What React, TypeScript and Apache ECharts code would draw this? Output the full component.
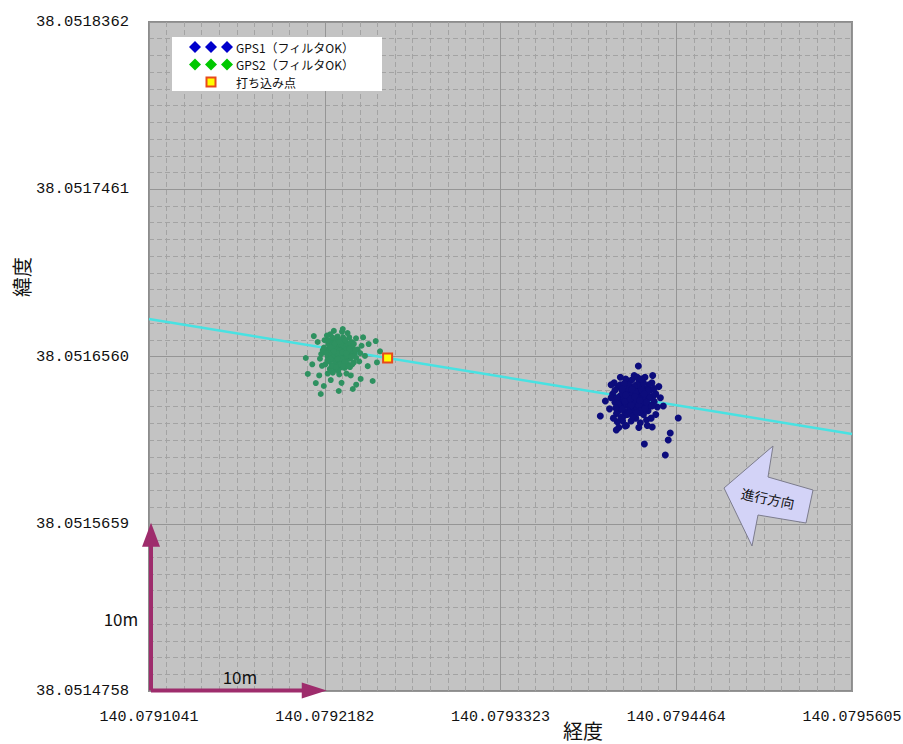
import React, { useEffect, useRef } from "react";
import * as echarts from "echarts";

// Lower-left corner of the plot, in degrees.
const LON0 = 140.0791041;
const LAT0 = 38.0514758;
// One grid step on each axis (about 10 m at this latitude), in units of 1e-7 degree.
const LON_STEP = 1141;
const LAT_STEP = 901;

const X_TICKS = ["140.0791041", "140.0792182", "140.0793323", "140.0794464", "140.0795605"];
const Y_TICKS = ["38.0514758", "38.0515659", "38.0516560", "38.0517461", "38.0518362"];

// All positions below are [longitude, latitude] offsets from (LON0, LAT0), in 1e-7 degree.

// GPS2 fixes (filter OK)
const GPS2_POINTS: number[][] = [
  [1232, 1821], [1201, 1840], [1265, 1795], [1188, 1802], [1247, 1858], [1290, 1830], [1170, 1775], [1219, 1768],
  [1275, 1880], [1305, 1790], [1150, 1835], [1240, 1742], [1196, 1890], [1322, 1852], [1258, 1812], [1213, 1805],
  [1181, 1861], [1287, 1763], [1229, 1875], [1160, 1800], [1335, 1815], [1208, 1731], [1270, 1740], [1145, 1760],
  [1300, 1905], [1224, 1910], [1176, 1922], [1253, 1935], [1330, 1770], [1118, 1815], [1355, 1840], [1193, 1715],
  [1282, 1710], [1242, 1780], [1211, 1830], [1262, 1848], [1236, 1795], [1184, 1825], [1299, 1815], [1165, 1870],
  [1316, 1880], [1227, 1850], [1255, 1772], [1198, 1785], [1279, 1857], [1140, 1890], [1345, 1795], [1123, 1752],
  [1371, 1820], [1218, 1890], [1305, 1745], [1260, 1905], [1174, 1735], [1289, 1928], [1155, 1915], [1344, 1900],
  [1235, 1705], [1110, 1790], [1380, 1860], [1203, 1760], [1268, 1826], [1190, 1870], [1246, 1890], [1312, 1830],
  [1168, 1845], [1233, 1758], [1294, 1790], [1214, 1855], [1252, 1842], [1186, 1753], [1320, 1760], [1136, 1850],
  [1275, 1800], [1204, 1815], [1243, 1815], [1222, 1838], [1260, 1860], [1196, 1808], [1281, 1840], [1250, 1790],
  [1178, 1790], [1310, 1863], [1158, 1780], [1236, 1835], [1211, 1880], [1292, 1750], [1229, 1725], [1340, 1835],
  [1128, 1835], [1365, 1775], [1200, 1940], [1310, 1700], [1160, 1710],
  [1170, 1820], [1195, 1750], [1225, 1790], [1255, 1825], [1285, 1805], [1315, 1800], [1165, 1890], [1205, 1870],
  [1240, 1760], [1270, 1770], [1300, 1840], [1180, 1850], [1215, 1745], [1245, 1870], [1275, 1890], [1305, 1875],
  [1150, 1820], [1330, 1870], [1190, 1905], [1260, 1750], [1220, 1820], [1280, 1820], [1200, 1830], [1235, 1880],
  [1070, 1912], [1258, 1950], [1018, 1794], [1031, 1708], [1115, 1600], [1232, 1616], [1323, 1627], [1374, 1681],
  [1452, 1670], [1472, 1885], [1426, 1869], [1135, 1643], [1083, 1659], [1095, 1880], [1402, 1805], [1420, 1750],
  [1060, 1760], [1250, 1660], [1180, 1675], [1390, 1905], [1105, 1700], [1345, 1650], [1480, 1770], [1500, 1830],
];

// GPS1 fixes (filter OK)
const GPS1_POINTS: number[][] = [
  [3138, 1578], [3100, 1600], [3170, 1555], [3090, 1540], [3205, 1610], [3150, 1630], [3060, 1590], [3120, 1520],
  [3185, 1500], [3230, 1570], [3045, 1640], [3110, 1660], [3200, 1665], [3255, 1620], [3025, 1555], [3160, 1470],
  [3080, 1480], [3240, 1510], [3130, 1640], [3190, 1590], [3070, 1620], [3145, 1530], [3215, 1545], [3105, 1570],
  [3175, 1620], [3050, 1510], [3265, 1660], [3020, 1660], [3130, 1455], [3230, 1460], [3280, 1560], [3010, 1600],
  [3095, 1680], [3180, 1675], [3160, 1595], [3118, 1588], [3152, 1560], [3085, 1615], [3196, 1532], [3226, 1600],
  [3066, 1560], [3140, 1605], [3112, 1545], [3172, 1580], [3134, 1675], [3245, 1650], [3035, 1495], [3290, 1600],
  [3000, 1580], [3155, 1510], [3210, 1490], [3075, 1455], [3300, 1530], [3260, 1470], [3190, 1445], [3100, 1430],
  [3040, 1450], [2990, 1520], [3220, 1690], [3060, 1690], [3150, 1700], [3270, 1700], [3310, 1640], [3125, 1610],
  [3185, 1635], [3090, 1505], [3240, 1590], [3055, 1535], [3165, 1650], [3205, 1575], [3115, 1625], [3145, 1555],
  [3080, 1575], [3195, 1555], [3135, 1500], [3250, 1540], [3025, 1620], [3170, 1525], [3220, 1630], [3105, 1490],
  [3275, 1590], [3015, 1470], [3235, 1430], [3180, 1420], [3290, 1490], [3050, 1420], [3320, 1580], [3000, 1650],
  [3060, 1650], [3090, 1560], [3120, 1500], [3150, 1640], [3180, 1540], [3210, 1660], [3240, 1620], [3070, 1520],
  [3100, 1620], [3130, 1540], [3160, 1610], [3190, 1510], [3220, 1520], [3250, 1580], [3040, 1580], [3075, 1600],
  [3110, 1650], [3140, 1480], [3170, 1690], [3200, 1620], [3230, 1555], [3085, 1655], [3125, 1575], [3155, 1585],
  [3185, 1565], [3215, 1600], [3045, 1545], [3065, 1475], [3095, 1595], [3135, 1625], [3165, 1500], [3195, 1680],
  [3265, 1535], [3280, 1630], [3030, 1525],
  [3177, 1751], [2930, 1481], [3436, 1471], [3384, 1390], [3371, 1352], [3216, 1331], [3352, 1271], [3034, 1406],
  [3339, 1535], [3267, 1422], [3092, 1428], [2963, 1562], [3073, 1627],
];

// Travel line, drawn across the full width of the plot
const TRACK_LINE: number[][] = [
  [0, 2004],
  [4564, 1385],
];

// Driven-in point
const DRIVE_POINT: number[][] = [[1549, 1794]];

const LEGEND_ITEMS = ["GPS1（フィルタOK）", "GPS2（フィルタOK）", "打ち込み点"];

const MONO = "'Liberation Mono', 'DejaVu Sans Mono', monospace";
const JP = "'Noto Sans CJK JP', 'Noto Sans', sans-serif";
const SCALE_COLOR = "#9E2C6C";

// Legend row centres
const ROW_Y = [47, 64.5, 82];

function diamond(cx: number, cy: number, r: number, color: string) {
  return {
    type: "polygon",
    shape: { points: [[cx, cy - r], [cx + r, cy], [cx, cy + r], [cx - r, cy]] },
    style: { fill: color },
    silent: true,
  };
}

export default function App() {
  const ref = useRef<HTMLDivElement>(null);

  useEffect(() => {
    document.body.style.margin = "0";
    if (!ref.current) return;
    const chart = echarts.init(ref.current, null, { renderer: "svg" });

    chart.setOption({
      animation: false,
      backgroundColor: "#ffffff",
      grid: {
        left: 149,
        top: 22,
        width: 703,
        height: 669,
        show: true,
        backgroundColor: "#c3c3c3",
        borderColor: "#8c8c8c",
        borderWidth: 2,
        containLabel: false,
        outerBoundsMode: "none",
      },
      xAxis: {
        type: "value",
        min: 0,
        max: LON_STEP * 4,
        interval: LON_STEP,
        axisLine: { show: false },
        axisTick: { show: false },
        axisLabel: {
          margin: 19,
          fontFamily: MONO,
          fontSize: 15,
          color: "#111",
          showMinLabel: true,
          showMaxLabel: true,
          formatter: (v: number) => X_TICKS[Math.round(v / LON_STEP)] ?? "",
        },
        splitLine: { show: true, lineStyle: { color: "#959595", width: 1 } },
        minorTick: { show: false, splitNumber: 10 },
        minorSplitLine: { show: true, lineStyle: { color: "#a3a3a3", width: 1, type: [5, 3] } },
      },
      yAxis: {
        type: "value",
        min: 0,
        max: LAT_STEP * 4,
        interval: LAT_STEP,
        axisLine: { show: false },
        axisTick: { show: false },
        axisLabel: {
          margin: 20,
          fontFamily: MONO,
          fontSize: 15.5,
          color: "#111",
          showMinLabel: true,
          showMaxLabel: true,
          formatter: (v: number) => Y_TICKS[Math.round(v / LAT_STEP)] ?? "",
        },
        splitLine: { show: true, lineStyle: { color: "#959595", width: 1 } },
        minorTick: { show: false, splitNumber: 10 },
        minorSplitLine: { show: true, lineStyle: { color: "#a3a3a3", width: 1, type: [5, 3] } },
      },
      series: [
        {
          name: "進行ライン",
          type: "line",
          data: TRACK_LINE,
          symbol: "none",
          lineStyle: { color: "#48e2e2", width: 2.5 },
          silent: true,
          z: 1,
        },
        {
          name: "GPS2（フィルタOK）",
          type: "scatter",
          data: GPS2_POINTS,
          symbol: "circle",
          symbolSize: 6,
          itemStyle: { color: "#2e9160", opacity: 1 },
          silent: true,
          z: 2,
        },
        {
          name: "GPS1（フィルタOK）",
          type: "scatter",
          data: GPS1_POINTS,
          symbol: "circle",
          symbolSize: 7,
          itemStyle: { color: "#0c0c7c", opacity: 1 },
          silent: true,
          z: 3,
        },
        {
          name: "打ち込み点",
          type: "scatter",
          data: DRIVE_POINT,
          symbol: "rect",
          symbolSize: 9,
          itemStyle: { color: "#ffff00", borderColor: "#e8491a", borderWidth: 2, opacity: 1 },
          silent: true,
          z: 4,
        },
      ],
    });

    // Scale arrows: one grid step (10 m) along each axis, placed through the axes.
    const o = chart.convertToPixel({ gridIndex: 0 }, [0, 0]) as number[];
    const ex = chart.convertToPixel({ gridIndex: 0 }, [LON_STEP, 0]) as number[];
    const ey = chart.convertToPixel({ gridIndex: 0 }, [0, LAT_STEP]) as number[];
    const ax = o[0] + 2;
    const ay = o[1] - 0.5;

    const graphic: any[] = [
      // legend box
      {
        type: "rect",
        shape: { x: 172, y: 37, width: 210, height: 54 },
        style: { fill: "#ffffff" },
        silent: true,
        z: 10,
      },
      ...[195, 211, 227].map((x) => ({ ...diamond(x, ROW_Y[0], 6, "#0000cc"), z: 11 })),
      ...[195, 211, 227].map((x) => ({ ...diamond(x, ROW_Y[1], 6, "#00c800"), z: 11 })),
      {
        type: "rect",
        shape: { x: 206.5, y: ROW_Y[2] - 4.5, width: 9, height: 9 },
        style: { fill: "#ffff00", stroke: "#e8491a", lineWidth: 2 },
        silent: true,
        z: 11,
      },
      ...LEGEND_ITEMS.map((t, i) => ({
        type: "text",
        x: 236,
        y: ROW_Y[i],
        style: {
          text: t,
          fill: "#111",
          font: `12px ${JP}`,
          verticalAlign: "middle",
        },
        silent: true,
        z: 11,
      })),
      // 10 m scale arrows
      {
        type: "line",
        shape: { x1: ax, y1: ay, x2: ax, y2: ey[1] + 20 },
        style: { stroke: SCALE_COLOR, lineWidth: 4 },
        silent: true,
        z: 12,
      },
      {
        type: "polygon",
        shape: { points: [[ax - 9, ey[1] + 23], [ax + 9, ey[1] + 23], [ax, ey[1] - 1]] },
        style: { fill: SCALE_COLOR },
        silent: true,
        z: 12,
      },
      {
        type: "line",
        shape: { x1: ax, y1: ay, x2: ex[0] - 20, y2: ay },
        style: { stroke: SCALE_COLOR, lineWidth: 4 },
        silent: true,
        z: 12,
      },
      {
        type: "polygon",
        shape: { points: [[ex[0] - 23, ay - 8], [ex[0] - 23, ay + 8], [ex[0] + 2, ay]] },
        style: { fill: SCALE_COLOR },
        silent: true,
        z: 12,
      },
      {
        type: "text",
        x: 121,
        y: 618,
        style: { text: "10m", fill: "#111", font: `17px ${JP}`, align: "center", verticalAlign: "middle" },
        silent: true,
        z: 12,
      },
      {
        type: "text",
        x: 240,
        y: 676,
        style: { text: "10m", fill: "#111", font: `17px ${JP}`, align: "center", verticalAlign: "middle" },
        silent: true,
        z: 12,
      },
      // direction of travel
      {
        type: "polygon",
        shape: {
          points: [[724, 488], [773, 446], [768, 477], [813, 490], [806, 523], [758, 515], [752, 546]],
        },
        style: { fill: "#d3d3f7", stroke: "#7c7c8c", lineWidth: 1 },
        silent: true,
        z: 12,
      },
      {
        type: "text",
        x: 768,
        y: 498,
        rotation: -0.2,
        style: { text: "進行方向", fill: "#111", font: `13.5px ${JP}`, align: "center", verticalAlign: "middle" },
        silent: true,
        z: 13,
      },
      // axis titles
      {
        type: "text",
        x: 583,
        y: 730,
        style: { text: "経度", fill: "#111", font: `20px ${JP}`, align: "center", verticalAlign: "middle" },
        silent: true,
        z: 12,
      },
      {
        type: "text",
        x: 21,
        y: 277,
        rotation: Math.PI / 2,
        style: { text: "緯度", fill: "#111", font: `20px ${JP}`, align: "center", verticalAlign: "middle" },
        silent: true,
        z: 12,
      },
    ];

    chart.setOption({ graphic });

    return () => chart.dispose();
  }, []);

  return <div ref={ref} style={{ width: 903, height: 744 }} />;
}
